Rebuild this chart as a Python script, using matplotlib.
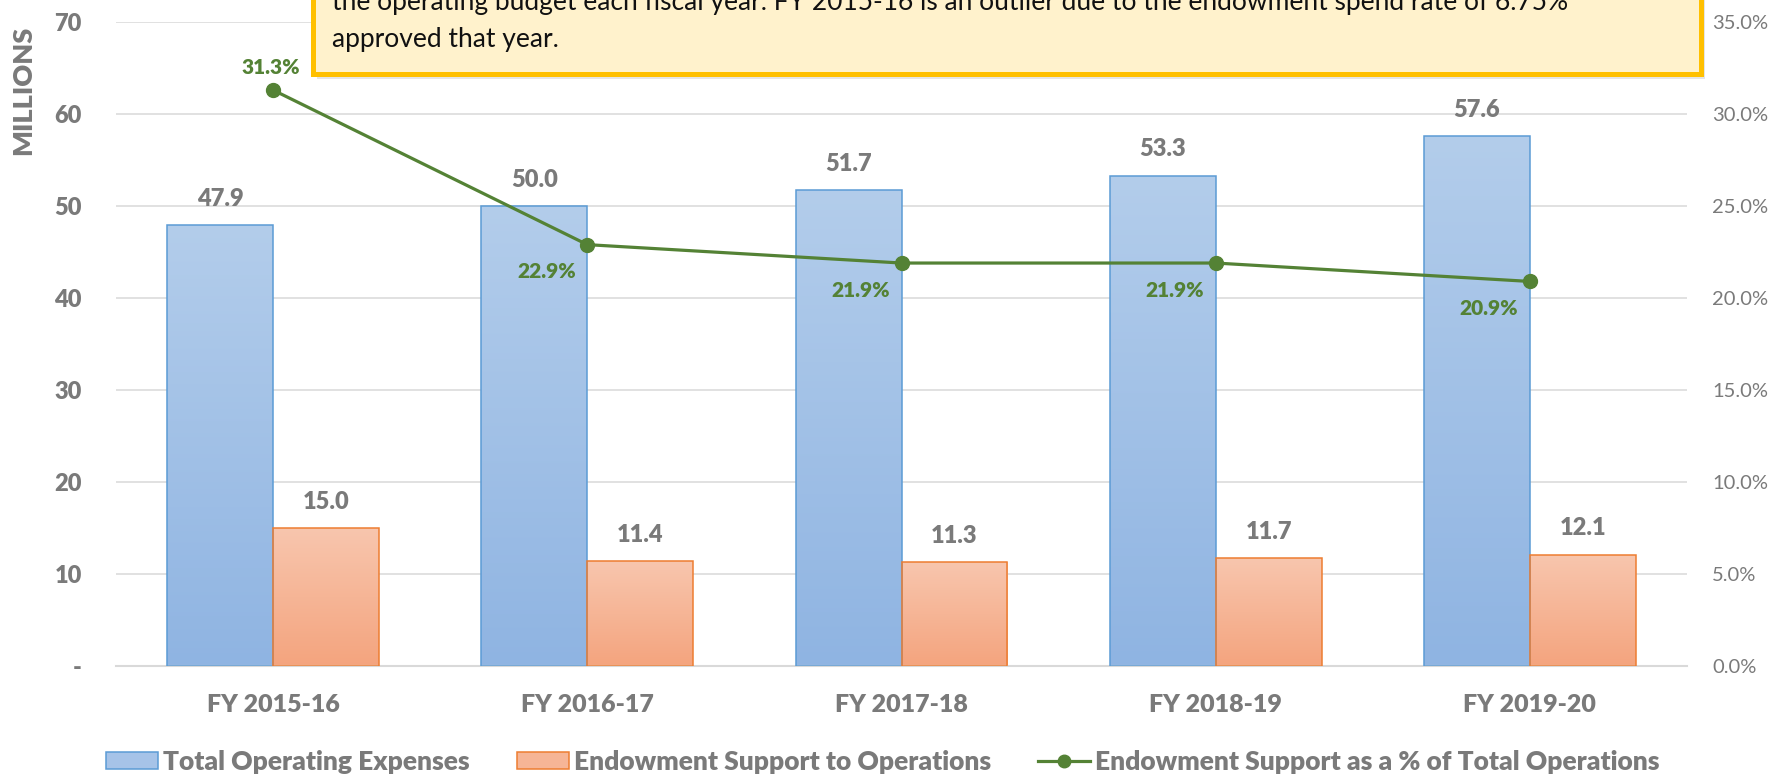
import numpy as np
import matplotlib.pyplot as plt
from matplotlib.patches import Rectangle, Patch
from matplotlib.lines import Line2D
from matplotlib.colors import LinearSegmentedColormap

plt.rcParams['font.family'] = ['Lato', 'DejaVu Sans']

# 数据
years = ['FY 2015-16', 'FY 2016-17', 'FY 2017-18', 'FY 2018-19', 'FY 2019-20']
total_expenses = [47.9, 50.0, 51.7, 53.3, 57.6]
endowment_support = [15.0, 11.4, 11.3, 11.7, 12.1]
support_pct = [31.3, 22.9, 21.9, 21.9, 20.9]

left_ticks = [0, 10, 20, 30, 40, 50, 60, 70]
left_tick_labels = ['-', '10', '20', '30', '40', '50', '60', '70']
right_ticks = [0, 5, 10, 15, 20, 25, 30, 35]
right_tick_labels = ['0.0%', '5.0%', '10.0%', '15.0%', '20.0%', '25.0%', '30.0%', '35.0%']

note_lines = ['the operating budget each fiscal year. FY 2015-16 is an outlier due to the endowment spend rate of 6.75%',
              'approved that year.']

GRAY = '#7a7a7a'
GREEN = '#548235'

W, H = 1791, 776
fig = plt.figure(figsize=(W / 100, H / 100), dpi=100)
ax = fig.add_axes([116 / W, 1 - 666 / H, (1687 - 116) / W, (666 - 22) / H])

x = np.arange(len(years))
bw = 0.337
bars1 = ax.bar(x - bw / 2, total_expenses, bw, facecolor='none', edgecolor='#5b9bd5', lw=1.1, zorder=3)
bars2 = ax.bar(x + bw / 2, endowment_support, bw, facecolor='none', edgecolor='#ed7d31', lw=1.1, zorder=3)


def gradient_fill(bars, top, bottom):
    cmap = LinearSegmentedColormap.from_list('g', [bottom, top])
    grad = np.linspace(0, 1, 256).reshape(-1, 1)
    for b in bars:
        x0, y0 = b.get_x(), b.get_y()
        im = ax.imshow(grad, cmap=cmap, aspect='auto', origin='lower', interpolation='bilinear',
                       extent=(x0, x0 + b.get_width(), y0, y0 + b.get_height()), zorder=2)
        im.set_clip_path(b)


gradient_fill(bars1, '#b3cdeb', '#8fb4e2')
gradient_fill(bars2, '#f8c6ae', '#f4a47e')

for b, v in zip(bars1, total_expenses):
    ax.annotate(f'{v:.1f}', (b.get_x() + b.get_width() / 2, v), xytext=(0, 19), textcoords='offset points',
                ha='center', va='center', fontsize=17, fontweight='heavy', color=GRAY)
for b, v in zip(bars2, endowment_support):
    ax.annotate(f'{v:.1f}', (b.get_x() + b.get_width() / 2, v), xytext=(0, 19), textcoords='offset points',
                ha='center', va='center', fontsize=17, fontweight='heavy', color=GRAY)

ax.set_xlim(-0.5, len(years) - 0.5)
ax.set_ylim(0, 70)
ax.set_yticks(left_ticks)
ax.set_yticklabels(left_tick_labels)
ax.set_xticks(x)
ax.set_xticklabels(years)
ax.tick_params(axis='y', length=0, pad=24.5, labelsize=17, labelcolor=GRAY)
ax.tick_params(axis='x', length=0, pad=20, labelsize=18, labelcolor=GRAY)
for t in ax.get_xticklabels() + ax.get_yticklabels():
    t.set_fontweight('heavy')
ax.yaxis.grid(True, color='#d9d9d9', lw=1.1)
ax.set_axisbelow(True)
for s in ['top', 'left', 'right']:
    ax.spines[s].set_visible(False)
ax.spines['bottom'].set_color('#d9d9d9')
ax.spines['bottom'].set_linewidth(1.5)

# 右轴 百分比
ax2 = ax.twinx()
ax2.plot(x, support_pct, color=GREEN, lw=2.3, marker='o', ms=10, zorder=4)
ax2.set_ylim(0, 35)
ax2.set_yticks(right_ticks)
ax2.set_yticklabels(right_tick_labels)
ax2.tick_params(axis='y', length=0, pad=18, labelsize=14.5, labelcolor=GRAY)
for s in ax2.spines.values():
    s.set_visible(False)
for i, v in enumerate(support_pct):
    off = (-1.5, 16.5) if i == 0 else (-29.5, -19.5)
    ax2.annotate(f'{v:.1f}%', (i, v), xytext=off, textcoords='offset points',
                 ha='center', va='center', fontsize=15, fontweight='heavy', color=GREEN)

fig.text(23 / W, 1 - 90 / H, 'MILLIONS', rotation=90, ha='center', va='center',
         fontsize=19.5, fontweight='heavy', color=GRAY)

# 注释框
bx0, bx1, by0 = 312.5 / W, 1700.5 / W, 1 - 73.5 / H
fig.add_artist(Rectangle((bx0 + 4 / W, by0 - 5 / H), bx1 - bx0, 0.3, transform=fig.transFigure,
                         facecolor='#000000', alpha=0.10, lw=0, zorder=5))
fig.add_artist(Rectangle((bx0, by0), bx1 - bx0, 0.3, transform=fig.transFigure,
                         facecolor='#fff2cc', edgecolor='#ffc000', lw=3.6, zorder=6))
fig.text(332 / W, 1 - 10 / H, note_lines[0], va='baseline', ha='left', fontsize=19, color='#111111', zorder=7)
fig.text(332 / W, 1 - 47 / H, note_lines[1], va='baseline', ha='left', fontsize=19, color='#111111', zorder=7)

handles = [Patch(facecolor='#a6c3e8', edgecolor='#5b9bd5', lw=1.1),
           Patch(facecolor='#f6b596', edgecolor='#ed7d31', lw=1.1),
           Line2D([], [], color=GREEN, lw=2.3, marker='o', ms=9)]
labels = ['Total Operating Expenses', 'Endowment Support to Operations',
          'Endowment Support as a % of Total Operations']
fig.legend(handles, labels, loc='center', bbox_to_anchor=(0.493, 0.018), ncol=3, frameon=False,
           prop={'weight': 'heavy', 'size': 19}, labelcolor=GRAY, handlelength=1.95, handleheight=0.62,
           handletextpad=0.2, columnspacing=1.8)

fig.savefig('out.png', dpi=100)
